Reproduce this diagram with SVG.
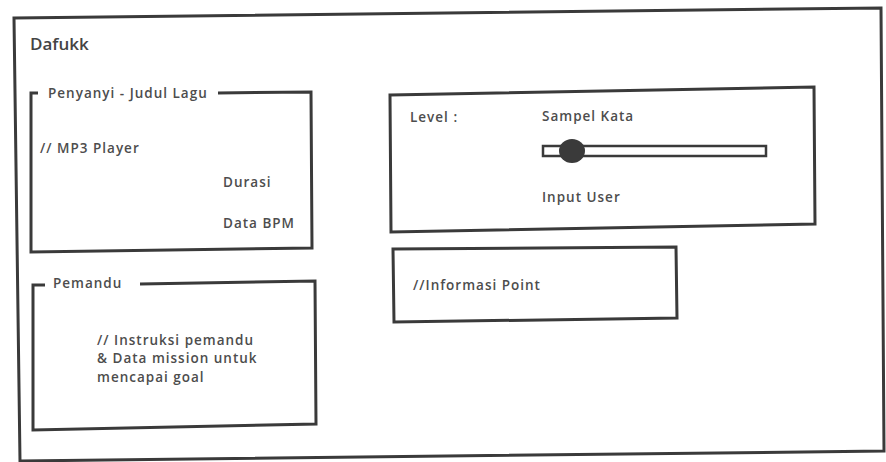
<svg xmlns="http://www.w3.org/2000/svg" width="886" height="462" viewBox="0 0 886 462">
<style>
.frame{fill:none;stroke:#3a3a3a;stroke-width:3;stroke-linejoin:miter}
.t{font-family:"Open Sans","DejaVu Sans",sans-serif;font-weight:600;font-size:13.5px;letter-spacing:1px;fill:#4d4d4d}
.title{font-family:"Open Sans","DejaVu Sans",sans-serif;font-weight:600;font-size:17px;fill:#444}
</style>
<rect width="886" height="462" fill="#ffffff"/>
<g id="window">
<path class="frame" d="M14,18 L881,8 L884,451 L20,461 Z"/>
<text class="title" x="30" y="50">Dafukk</text>
</g>
<g id="penyanyi">
<path class="frame" d="M38,93 L31,93 L31,252 L312,248 L311,92 L218,93"/>
<text class="t" x="48" y="98">Penyanyi - Judul Lagu</text>
<text class="t" x="40" y="153">// MP3 Player</text>
<text class="t" x="223" y="187">Durasi</text>
<text class="t" x="223" y="228">Data BPM</text>
</g>
<g id="pemandu">
<path class="frame" d="M45,285 L33,285 L33,430 L316,424 L315,281 L140,284"/>
<text class="t" x="53" y="288">Pemandu</text>
<text class="t" x="97" y="345">// Instruksi pemandu</text>
<text class="t" x="97" y="363">&amp; Data mission untuk</text>
<text class="t" x="97" y="382">mencapai goal</text>
</g>
<g id="level">
<path class="frame" d="M390,95 L814,87 L815,224 L391,232 Z"/>
<text class="t" x="410" y="122">Level :</text>
<text class="t" x="542" y="121">Sampel Kata</text>
<rect x="543" y="146" width="223" height="10" fill="#fff" stroke="#3a3a3a" stroke-width="2.5"/>
<ellipse cx="572" cy="151" rx="13" ry="12" fill="#3a3a3a"/>
<text class="t" x="542" y="202">Input User</text>
</g>
<g id="informasi">
<path class="frame" d="M393,249 L676,247 L677,318 L394,322 Z"/>
<text class="t" x="413" y="290">//Informasi Point</text>
</g>
<g id="connectors"></g>
</svg>
